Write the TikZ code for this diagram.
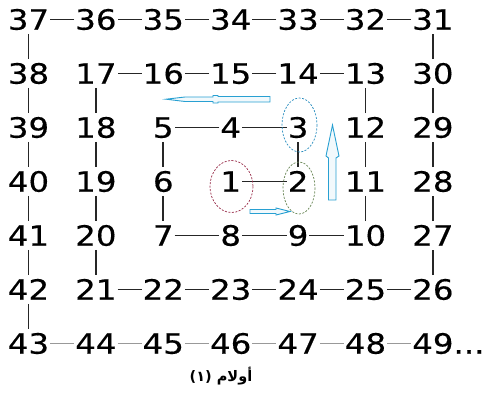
\documentclass[tikz,border=0pt]{standalone}
\usepackage{fontspec}
\TeXXeTstate=1
\newfontfamily\numfont[FakeStretch=1.16,FakeBold=0.4]{DejaVu Sans}
\newfontfamily\arabicfont[Script=Arabic]{DejaVu Sans}
\definecolor{arrowblue}{RGB}{40,160,210}
\definecolor{ringred}{RGB}{150,40,70}
\definecolor{ringgreen}{RGB}{100,130,80}
\definecolor{ringblue}{RGB}{40,140,190}
\begin{document}
\begin{tikzpicture}[x=1pt,y=-1pt,
  num/.style={font=\numfont\fontsize{28}{28}\selectfont, inner xsep=0.8pt, inner ysep=4pt,
    text height=20.4pt, text depth=0pt, anchor=center},
  link/.style={line width=1.7pt, black!85},
  faint/.style={line width=1.5pt, black!40},
  ring/.style={dash pattern=on 2pt off 1.5pt, line width=0.7pt},
  hollow/.style={draw=arrowblue, line width=0.9pt, fill=arrowblue!6, line join=miter}]
\useasboundingbox (0,0) rectangle (485,394);
\foreach \n/\c/\r in {
  37/0/0,36/1/0,35/2/0,34/3/0,33/4/0,32/5/0,31/6/0,
  38/0/1,17/1/1,16/2/1,15/3/1,14/4/1,13/5/1,30/6/1,
  39/0/2,18/1/2,5/2/2,4/3/2,3/4/2,12/5/2,29/6/2,
  40/0/3,19/1/3,6/2/3,1/3/3,2/4/3,11/5/3,28/6/3,
  41/0/4,20/1/4,7/2/4,8/3/4,9/4/4,10/5/4,27/6/4,
  42/0/5,21/1/5,22/2/5,23/3/5,24/4/5,25/5/5,26/6/5,
  43/0/6,44/1/6,45/2/6,46/3/6,47/4/6,48/5/6}
  \node[num] (n\n) at ({28.5+67.4*\c},{19.5+54*\r}) {\n};
\node[num] (n49) at ({28.5+67.4*6},{19.5+54*6}) {49\rlap{...}};
\foreach \a [evaluate=\a as \b using int(\a+1)] in {1,...,42}
  \draw[link] (n\a) -- (n\b);
\foreach \a [evaluate=\a as \b using int(\a+1)] in {43,...,48}
  \draw[faint] (n\a) -- (n\b);
% rings
\draw[ring, ringred] (231.5,186.5) ellipse [x radius=21.5, y radius=26];
\draw[ring, ringgreen] (299,188) ellipse [x radius=16, y radius=26];
\draw[ring, ringblue] (299.5,125) ellipse [x radius=17.5, y radius=27];
% hollow arrows
\draw[hollow] (166,99.2) -- (185,97) -- (213,97) -- (213,95.5) -- (218,95.5) -- (218,96.5)
  -- (270,96.5) -- (270,102) -- (218,102) -- (218,103) -- (213,103) -- (213,101.5)
  -- (185,101.5) -- cycle;
\draw[hollow] (332.5,125) -- (339,156) -- (336,158) -- (336,200) -- (328.5,200)
  -- (328.5,158) -- (326,156) -- cycle;
\draw[hollow] (250,209.5) -- (276,209.5) -- (276,208) -- (290,211.5) -- (276,215)
  -- (276,213.5) -- (250,213.5) -- cycle;
% caption
\node[font=\arabicfont\bfseries\fontsize{14.5}{16}\selectfont, inner sep=0pt] (cap) at (221,376)
  {(١) \beginR أولام\endR};
\end{tikzpicture}
\end{document}
